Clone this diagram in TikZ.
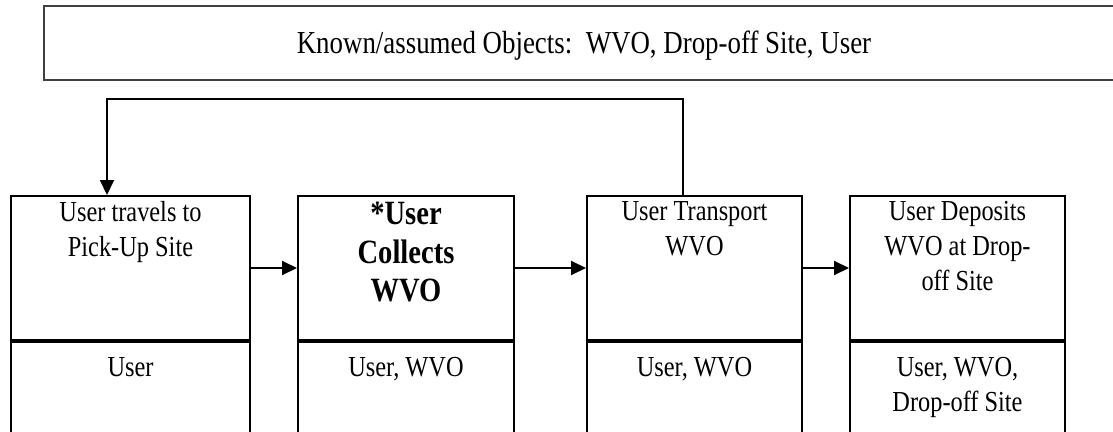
\documentclass[tikz,border=0pt]{standalone}
\usepackage{fontspec}
\setmainfont[FakeStretch=0.84]{Liberation Serif}
\usetikzlibrary{arrows.meta,positioning}

\tikzset{
StepBox/.style={draw=black, line width=2pt, inner sep=0pt, minimum height=144pt, anchor=north west},
ObjBox/.style={draw=black, line width=2pt, inner sep=0pt, minimum height=120pt, anchor=north},
StepText/.style={anchor=north, yshift=-3pt, align=center, font=\fontsize{29}{35}\selectfont},
StepBold/.style={anchor=north, yshift=-4pt, align=center, font=\fontsize{34}{38.5}\selectfont\bfseries},
ObjText/.style={anchor=north, yshift=-13pt, align=center, font=\fontsize{29}{35}\selectfont},
FlowLine/.style={-{Triangle[length=15pt,width=14pt]}, draw=black, line width=2pt},
}

\begin{document}
\begin{tikzpicture}[x=1pt, y=-1pt]
	\path[use as bounding box, clip] (0,0) rectangle (1113,431);
	% objects known from the start
	\node[draw=black!75, line width=2pt, minimum width=1080pt, minimum height=74pt, anchor=north west,
		text depth=2pt, font=\fontsize{32}{36}\selectfont] (known) at (43,5) {Known/assumed Objects:\ \ WVO, Drop-off Site, User};
	\coordinate (loop) at (0,99);

	% steps
	\node[StepBox, minimum width=239pt, label={[StepText]north:User travels to\\Pick-Up Site}] (S1) at (10,195) {};
	\node[StepBox, minimum width=216pt, label={[StepBold]north:*User\\Collects\\WVO}] (S2) at (297,195) {};
	\node[StepBox, minimum width=215pt, label={[StepText]north:User Transport\\WVO}] (S3) at (586,195) {};
	\node[StepBox, minimum width=215pt, label={[StepText]north:User Deposits\\WVO at Drop-\\off Site}] (S4) at (849,195) {};

	% objects of each step
	\node[ObjBox, minimum width=239pt, label={[ObjText]north:User}] (O1) at (S1.south) {};
	\node[ObjBox, minimum width=216pt, label={[ObjText]north:User, WVO}] (O2) at (S2.south) {};
	\node[ObjBox, minimum width=215pt, label={[ObjText]north:User, WVO}] (O3) at (S3.south) {};
	\node[ObjBox, minimum width=215pt, label={[ObjText]north:User, WVO,\\Drop-off Site}] (O4) at (S4.south) {};

	\draw[FlowLine] (S1) -- (S2);
	\draw[FlowLine] (S2) -- (S3);
	\draw[FlowLine] (S3) -- (S4);
	\draw[FlowLine] ([xshift=-11.5pt]S3.north) |- ([xshift=-23.5pt]S1.north |- loop) -- ([xshift=-23.5pt]S1.north);
\end{tikzpicture}
\end{document}
